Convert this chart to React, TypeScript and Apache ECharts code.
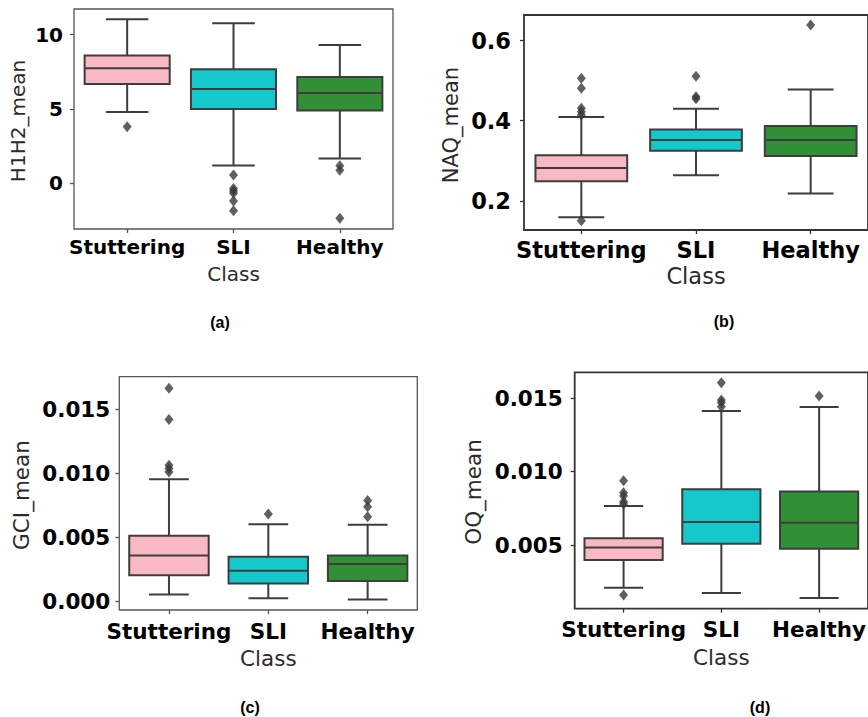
import React, { useEffect, useRef } from "react";
import * as echarts from "echarts";

const categories = ["Stuttering", "SLI", "Healthy"];

// [min whisker, Q1, median, Q3, max whisker] per class
const h1h2Stats = [
  [4.8, 6.68, 7.74, 8.61, 11.04],
  [1.21, 5.0, 6.35, 7.67, 10.77],
  [1.68, 4.91, 6.08, 7.16, 9.31],
];
const h1h2Outliers: [string, number][] = [
  ["Stuttering", 3.81],
  ["SLI", 0.56], ["SLI", -0.34], ["SLI", -0.5], ["SLI", -0.67], ["SLI", -1.19], ["SLI", -1.84],
  ["Healthy", 1.18], ["Healthy", 0.89], ["Healthy", -2.35],
];

const naqStats = [
  [0.159, 0.249, 0.282, 0.3135, 0.409],
  [0.264, 0.325, 0.352, 0.378, 0.43],
  [0.218, 0.312, 0.352, 0.387, 0.478],
];
const naqOutliers: [string, number][] = [
  ["Stuttering", 0.15], ["Stuttering", 0.506], ["Stuttering", 0.481], ["Stuttering", 0.431],
  ["Stuttering", 0.4225], ["Stuttering", 0.414],
  ["SLI", 0.511], ["SLI", 0.46], ["SLI", 0.455],
  ["Healthy", 0.639],
];

const gciStats = [
  [0.00052, 0.00201, 0.00357, 0.0051, 0.00953],
  [0.00021, 0.00138, 0.00237, 0.00346, 0.006],
  [0.00013, 0.00156, 0.00289, 0.00357, 0.00596],
];
const gciOutliers: [string, number][] = [
  ["Stuttering", 0.01664], ["Stuttering", 0.0142], ["Stuttering", 0.01063],
  ["Stuttering", 0.01037], ["Stuttering", 0.0101],
  ["SLI", 0.0068],
  ["Healthy", 0.00787], ["Healthy", 0.00737], ["Healthy", 0.00659],
];

const oqStats = [
  [0.00209, 0.00398, 0.00484, 0.00546, 0.00766],
  [0.00173, 0.00509, 0.00657, 0.0088, 0.01414],
  [0.00139, 0.00475, 0.00652, 0.00866, 0.01441],
];
const oqOutliers: [string, number][] = [
  ["Stuttering", 0.00159], ["Stuttering", 0.00938], ["Stuttering", 0.00857],
  ["Stuttering", 0.00834], ["Stuttering", 0.00795], ["Stuttering", 0.0078],
  ["SLI", 0.01607], ["SLI", 0.01489], ["SLI", 0.01472], ["SLI", 0.01443],
  ["Healthy", 0.01516],
];

const yTicksA = [0, 5, 10];
const yTicksB = [0.2, 0.4, 0.6];
const yTicksC = [0, 0.005, 0.01, 0.015];
const yTicksD = [0.005, 0.01, 0.015];

const classColors = ["#F8B9C5", "#14C8CB", "#319035"];
const lineColor = "#3d3d3d";

type Panel = {
  stats: number[][];
  outliers: [string, number][];
  ticks: number[];
  digits: number;
  min: number;
  max: number;
  grid: { left: number; top: number; width: number; height: number };
  font: number;
  labelMargin: number;
  catMargin: number;
  classGap: number;
  frameColor: string;
  frameWidth: number;
};

const panels: Panel[] = [
  {
    stats: h1h2Stats, outliers: h1h2Outliers, ticks: yTicksA, digits: 0,
    min: -3.07, max: 11.73,
    grid: { left: 74, top: 9, width: 319, height: 220 },
    font: 20, labelMargin: 11, catMargin: 8, classGap: 35,
    frameColor: "#555", frameWidth: 1.3,
  },
  {
    stats: naqStats, outliers: naqOutliers, ticks: yTicksB, digits: 1,
    min: 0.127, max: 0.664,
    grid: { left: 524, top: 15, width: 352, height: 215 },
    font: 22.5, labelMargin: 13, catMargin: 8, classGap: 34,
    frameColor: "#333", frameWidth: 1.8,
  },
  {
    stats: gciStats, outliers: gciOutliers, ticks: yTicksC, digits: 3,
    min: -0.0007, max: 0.01755,
    grid: { left: 119.3, top: 376.7, width: 298, height: 233.3 },
    font: 21.5, labelMargin: 9, catMargin: 10, classGap: 37,
    frameColor: "#555", frameWidth: 1.3,
  },
  {
    stats: oqStats, outliers: oqOutliers, ticks: yTicksD, digits: 3,
    min: 0.00066, max: 0.01678,
    grid: { left: 574.7, top: 372.3, width: 302.3, height: 236.4 },
    font: 21.5, labelMargin: 12, catMargin: 10, classGap: 38,
    frameColor: "#333", frameWidth: 1.8,
  },
];

const yNames = [
  { text: "H1H2_mean", x: 18, y: 121, size: 20 },
  { text: "NAQ_mean", x: 451, y: 125, size: 21 },
  { text: "GCI_mean", x: 21, y: 495, size: 21.5 },
  { text: "OQ_mean", x: 473, y: 492, size: 21.5 },
];
const panelLabels = [
  { text: "(a)", x: 220, y: 322 },
  { text: "(b)", x: 724, y: 321 },
  { text: "(c)", x: 250, y: 707 },
  { text: "(d)", x: 760, y: 707 },
];

const renderBox = (params: any, api: any) => {
  const idx = api.value(0);
  const pMin = api.coord([idx, api.value(1)]);
  const pQ1 = api.coord([idx, api.value(2)]);
  const pMed = api.coord([idx, api.value(3)]);
  const pQ3 = api.coord([idx, api.value(4)]);
  const pMax = api.coord([idx, api.value(5)]);
  const band = api.size([1, 0])[0];
  const cx = pMed[0];
  const hw = band * 0.4;
  const cw = band * 0.2;
  const ls = { stroke: lineColor, lineWidth: 2 };
  return {
    type: "group",
    children: [
      { type: "line", shape: { x1: cx, y1: pMin[1], x2: cx, y2: pQ1[1] }, style: ls },
      { type: "line", shape: { x1: cx, y1: pQ3[1], x2: cx, y2: pMax[1] }, style: ls },
      { type: "line", shape: { x1: cx - cw, y1: pMin[1], x2: cx + cw, y2: pMin[1] }, style: ls },
      { type: "line", shape: { x1: cx - cw, y1: pMax[1], x2: cx + cw, y2: pMax[1] }, style: ls },
      {
        type: "rect",
        shape: { x: cx - hw, y: pQ3[1], width: hw * 2, height: pQ1[1] - pQ3[1] },
        style: { fill: classColors[idx], stroke: lineColor, lineWidth: 2 },
      },
      { type: "line", shape: { x1: cx - hw, y1: pMed[1], x2: cx + hw, y2: pMed[1] }, style: ls },
    ],
  };
};

export default function App() {
  const ref = useRef<HTMLDivElement>(null);
  useEffect(() => {
    if (!ref.current) return;
    const chart = echarts.init(ref.current, null, { renderer: "svg" });
    const grids: any[] = [];
    const xAxes: any[] = [];
    const yAxes: any[] = [];
    const series: any[] = [];
    panels.forEach((p, i) => {
      grids.push({
        ...p.grid,
        show: true,
        borderColor: p.frameColor,
        borderWidth: p.frameWidth,
        backgroundColor: "#fff",
        containLabel: false,
      });
      xAxes.push({
        type: "category",
        gridIndex: i,
        position: "bottom",
        data: categories,
        boundaryGap: true,
        axisLine: { show: false, onZero: false },
        axisTick: { show: true, alignWithLabel: true, length: 4, lineStyle: { color: p.frameColor, width: 1.3 } },
        axisLabel: {
          interval: 0,
          margin: p.catMargin,
          fontFamily: "DejaVu Sans",
          fontWeight: "bold",
          fontSize: p.font,
          color: "#000",
        },
        splitLine: { show: false },
        name: "Class",
        nameLocation: "middle",
        nameGap: p.classGap,
        nameTextStyle: { fontFamily: "DejaVu Sans", fontSize: p.font, color: "#2b2b2b" },
      });
      yAxes.push({
        type: "value",
        gridIndex: i,
        position: "left",
        min: p.min,
        max: p.max,
        axisLine: { show: false, onZero: false },
        splitLine: { show: false },
        axisTick: { show: true, length: 4, customValues: p.ticks, lineStyle: { color: p.frameColor, width: 1.3 } },
        axisLabel: {
          customValues: p.ticks,
          margin: p.labelMargin,
          fontFamily: "DejaVu Sans",
          fontWeight: "bold",
          fontSize: p.font,
          color: "#000",
          formatter: (v: number) => v.toFixed(p.digits),
        },
      });
      series.push({
        type: "custom",
        xAxisIndex: i,
        yAxisIndex: i,
        renderItem: renderBox,
        encode: { x: 0, y: [1, 2, 3, 4, 5] },
        data: p.stats.map((s, k) => [k, ...s]),
        z: 2,
      });
      series.push({
        type: "scatter",
        xAxisIndex: i,
        yAxisIndex: i,
        symbol: "diamond",
        symbolSize: [9, 11],
        itemStyle: { color: "#383838" },
        data: p.outliers,
        z: 3,
      });
    });
    const graphics: any[] = [];
    yNames.forEach((n) => {
      graphics.push({
        type: "text",
        x: n.x,
        y: n.y,
        rotation: Math.PI / 2,
        style: {
          text: n.text,
          fontFamily: "DejaVu Sans",
          fontSize: n.size,
          fill: "#2b2b2b",
          align: "center",
          verticalAlign: "middle",
        },
      });
    });
    panelLabels.forEach((n) => {
      graphics.push({
        type: "text",
        x: n.x,
        y: n.y,
        style: {
          text: n.text,
          fontFamily: "Liberation Sans",
          fontWeight: "bold",
          fontSize: 16,
          fill: "#000",
          align: "center",
          verticalAlign: "middle",
        },
      });
    });
    chart.setOption({
      animation: false,
      backgroundColor: "#fff",
      grid: grids,
      xAxis: xAxes,
      yAxis: yAxes,
      series,
      graphic: graphics,
    });
    return () => chart.dispose();
  }, []);
  return (
    <div
      ref={ref}
      style={{ position: "fixed", left: 0, top: 0, width: 868, height: 717, background: "#fff" }}
    />
  );
}
